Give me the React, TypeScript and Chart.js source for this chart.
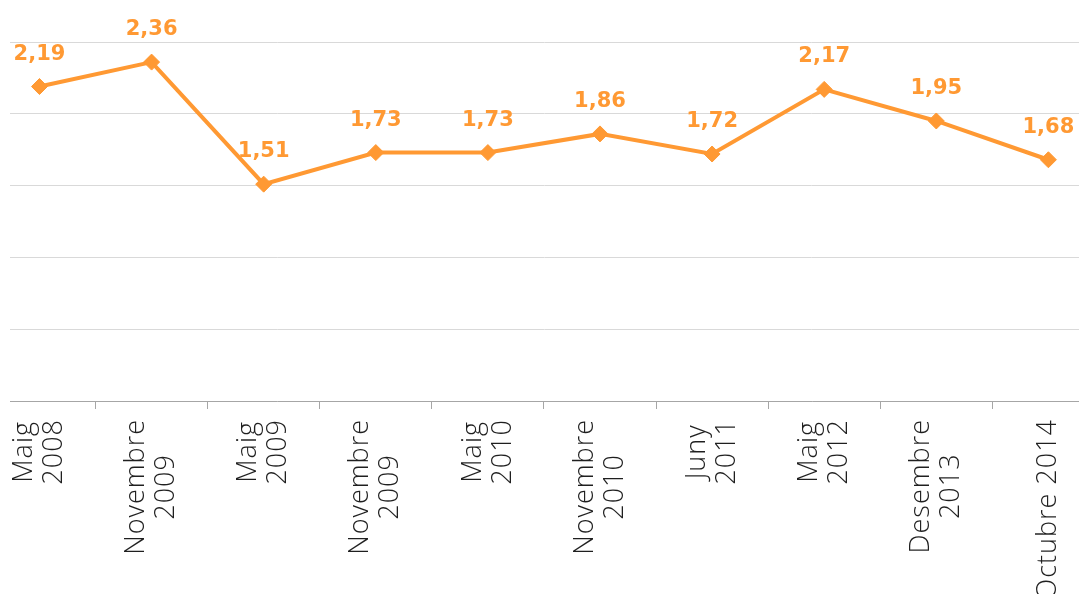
import React, { useEffect, useRef } from "react";
import { Chart, registerables } from "chart.js";

Chart.register(...registerables);

const categories: string[][] = [
  ["Maig", "2008"],
  ["Novembre", "2009"],
  ["Maig", "2009"],
  ["Novembre", "2009"],
  ["Maig", "2010"],
  ["Novembre", "2010"],
  ["Juny", "2011"],
  ["Maig", "2012"],
  ["Desembre", "2013"],
  ["Octubre 2014"],
];

const values: number[] = [2.19, 2.36, 1.51, 1.73, 1.73, 1.86, 1.72, 2.17, 1.95, 1.68];

const yTicks: number[] = [0, 0.5, 1, 1.5, 2, 2.5];

const ORANGE = "#FF9933";

const dataLabelPlugin = {
  id: "dataLabels",
  afterDatasetsDraw(chart: any) {
    const ctx = chart.ctx;
    const meta = chart.getDatasetMeta(0);
    ctx.save();
    ctx.font = "bold 21px 'DejaVu Sans'";
    ctx.fillStyle = ORANGE;
    ctx.textAlign = "center";
    ctx.textBaseline = "alphabetic";
    meta.data.forEach((pt: any, i: number) => {
      const txt = values[i].toFixed(2).replace(".", ",");
      ctx.fillText(txt, pt.x, pt.y - 27);
    });
    ctx.restore();
  },
};

const xLabelPlugin = {
  id: "xLabels",
  afterDraw(chart: any) {
    const ctx = chart.ctx;
    const xs = chart.scales.x;
    const top = chart.chartArea.bottom + 18;
    ctx.save();
    ctx.font = "300 27px 'Open Sans'";
    try {
      (ctx as any).letterSpacing = "1px";
    } catch (e) {}
    ctx.fillStyle = "#1f1f1f";
    ctx.textAlign = "center";
    ctx.textBaseline = "middle";
    categories.forEach((lines, i) => {
      const x = xs.getPixelForValue(i);
      const w = Math.max(...lines.map((l) => ctx.measureText(l).width));
      ctx.save();
      ctx.translate(x, top);
      ctx.rotate(-Math.PI / 2);
      lines.forEach((line, j) => {
        ctx.fillText(line, -w / 2, (j - (lines.length - 1) / 2) * 30);
      });
      ctx.restore();
    });
    ctx.restore();
  },
};

export default function App() {
  const ref = useRef<HTMLCanvasElement | null>(null);
  useEffect(() => {
    if (!ref.current) return;
    const chart = new Chart(ref.current, {
      type: "line",
      data: {
        datasets: [
          {
            data: values.map((v, i) => ({ x: i, y: v })),
            borderColor: ORANGE,
            backgroundColor: ORANGE,
            borderWidth: 4,
            pointStyle: "rectRot",
            pointRadius: 8,
            pointBorderWidth: 1,
            pointBackgroundColor: ORANGE,
            pointBorderColor: ORANGE,
            tension: 0,
            clip: false as any,
          },
        ],
      },
      options: {
        animation: false,
        responsive: false,
        maintainAspectRatio: false,
        layout: { padding: { left: 10, right: 0, top: 42, bottom: 0 }, autoPadding: false },
        plugins: { legend: { display: false }, tooltip: { enabled: false } },
        scales: {
          x: {
            type: "linear",
            min: -0.263,
            max: 9.273,
            ticks: { display: false, stepSize: 1, includeBounds: false },
            grid: {
              offset: true,
              drawOnChartArea: false,
              drawTicks: true,
              tickLength: 8,
              color: "#A6A6A6",
            },
            border: { display: true, color: "#A6A6A6", width: 1 },
            afterFit: (scale: any) => {
              scale.height = 193;
            },
          },
          y: {
            min: 0,
            max: 2.5,
            afterBuildTicks: (scale: any) => {
              scale.ticks = yTicks.map((v) => ({ value: v }));
            },
            ticks: { display: false },
            grid: { drawTicks: false, color: "#D9D9D9", lineWidth: 1 },
            border: { display: false },
          },
        },
      },
      plugins: [dataLabelPlugin, xLabelPlugin],
    });
    return () => chart.destroy();
  }, []);
  return (
    <div style={{ position: "fixed", left: 0, top: 0, width: 1079, height: 594, background: "#fff" }}>
      <canvas ref={ref} width={1079} height={594} style={{ display: "block" }} />
    </div>
  );
}
